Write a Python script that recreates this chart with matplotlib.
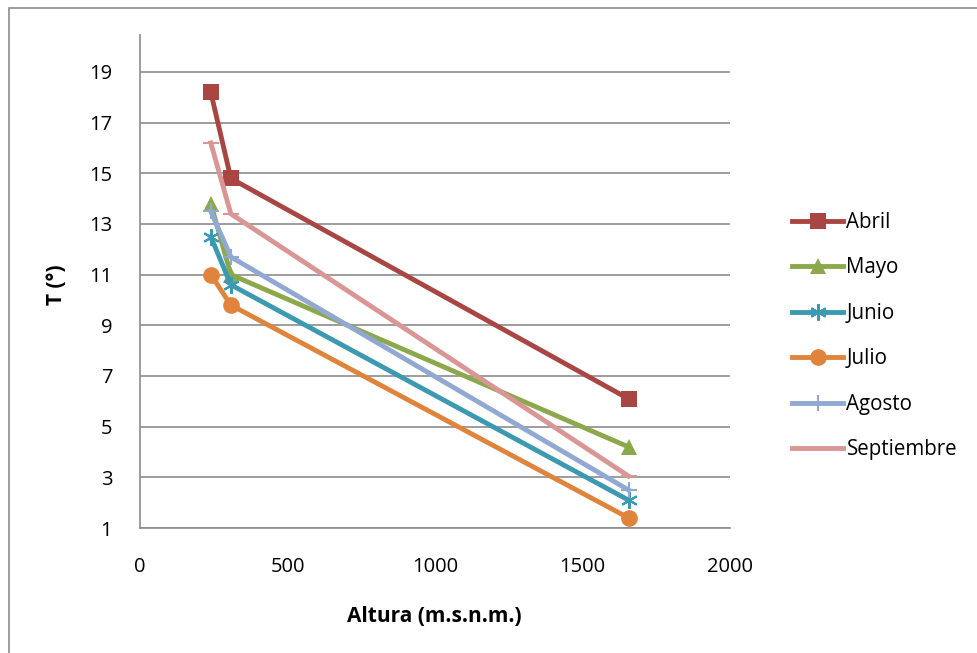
import matplotlib
matplotlib.use('Agg')
import matplotlib.pyplot as plt
from matplotlib.lines import Line2D
from matplotlib.patches import Rectangle

plt.rcParams['font.family'] = ['Open Sans', 'DejaVu Sans']

# altitude of the three stations (m.s.n.m.)
altura = [240, 308, 1656]

months = ['Abril', 'Mayo', 'Junio', 'Julio', 'Agosto', 'Septiembre']
abril = [18.2, 14.8, 6.1]
mayo = [13.8, 11.0, 4.2]
junio = [12.5, 10.6, 2.1]
julio = [11.0, 9.8, 1.4]
agosto = [13.5, 11.7, 2.5]
septiembre = [16.2, 13.4, 3.05]

series = [abril, mayo, junio, julio, agosto, septiembre]
colors = ['#A94543', '#8BA84B', '#3B9AB2', '#E0843C', '#91A9D2', '#D99695']
markers = ['s', '^', (6, 2, 0), 'o', '+', '_']
msizes = [12, 12, 12, 12, 12, 12]
thin = [False, False, True, False, True, True]

fig = plt.figure(figsize=(9.77, 6.53), dpi=100)
ax = fig.add_axes([140 / 977, 1 - 528 / 653, 590 / 977, 493 / 653])

for vals, name, c, m, ms, t in zip(series, months, colors, markers, msizes, thin):
    ax.plot(altura, vals, color=c, lw=3.5, marker=m, markersize=ms,
            markeredgewidth=1.5 if t else 0, label=name,
            solid_joinstyle='miter')

ax.set_xlim(0, 2000)
ax.set_ylim(1, 20.46)
ax.set_xticks([0, 500, 1000, 1500, 2000])
ax.set_yticks(range(1, 21, 2))
ax.yaxis.grid(True, color='#8c8c8c', lw=1.2)
ax.set_axisbelow(True)
ax.tick_params(length=0, labelsize=14.5, pad=20)
ax.tick_params(axis='x', pad=21)
for s in ['top', 'right']:
    ax.spines[s].set_visible(False)
for s in ['left', 'bottom']:
    ax.spines[s].set_color('#8c8c8c')
    ax.spines[s].set_linewidth(1.2)

fig.text(434 / 977, 1 - 617 / 653, 'Altura (m.s.n.m.)', ha='center', va='center',
         fontsize=15, fontweight='bold')
fig.text(57 / 977, 1 - 285 / 653, 'T (°)', ha='center', va='center',
         fontsize=15, fontweight='bold', rotation=90)

handles = [Line2D([], [], color=c, lw=3.5, marker=m, markersize=ms,
                  markeredgewidth=1.5 if t else 0)
           for c, m, ms, t in zip(colors, markers, msizes, thin)]
fig.legend(handles, months, loc='upper left', bbox_to_anchor=(792 / 977, 1 - 212 / 653),
           frameon=False, fontsize=14.8, handlelength=2.5, handletextpad=0.15,
           labelspacing=1.19, borderaxespad=0, borderpad=0)

fig.patches.append(Rectangle((9 / 977, -0.1), 1.2, 1 - 8 / 653 + 0.1, transform=fig.transFigure,
                             fill=False, edgecolor='#8c8c8c', lw=1.2))

fig.savefig('out.png', dpi=100)
